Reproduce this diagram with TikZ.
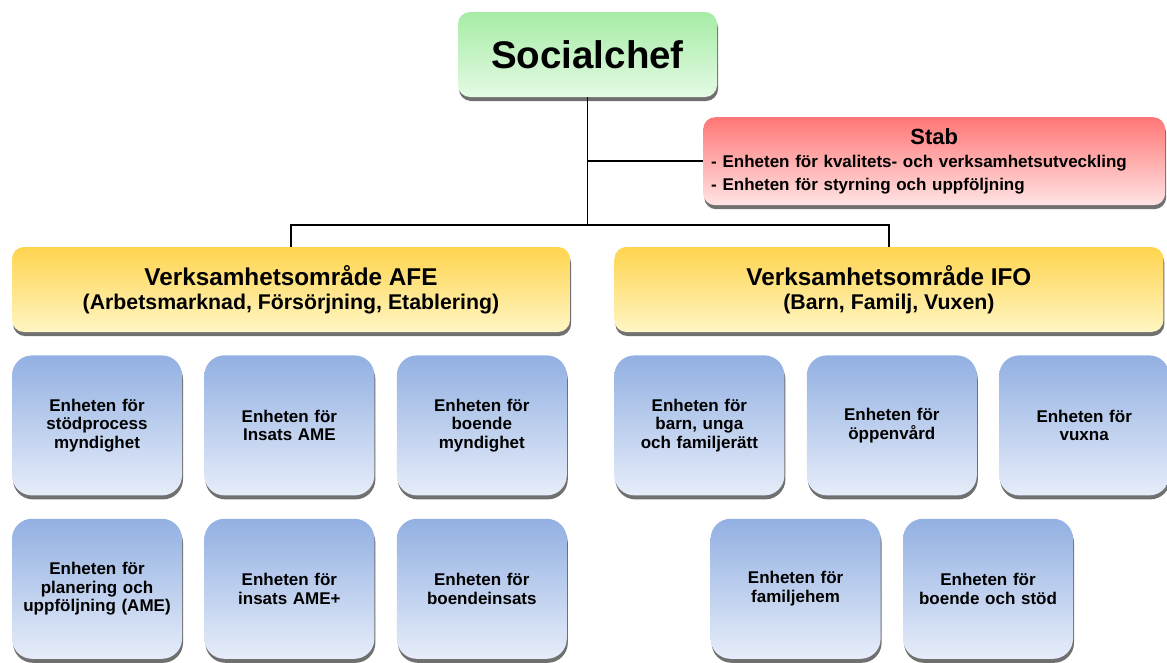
\documentclass[tikz,border=0pt]{standalone}
\usepackage{fontspec}
\setmainfont{Liberation Sans}
\usetikzlibrary{positioning,calc,shadows}

\definecolor{greentop}{RGB}{166,236,166}
\definecolor{greenbot}{RGB}{228,250,228}
\definecolor{redtop}{RGB}{255,118,118}
\definecolor{redbot}{RGB}{255,228,228}
\definecolor{yellowtop}{RGB}{255,212,78}
\definecolor{yellowbot}{RGB}{255,246,196}
\definecolor{bluetop}{RGB}{146,176,226}
\definecolor{bluebot}{RGB}{230,237,249}

\begin{document}
\begin{tikzpicture}[x=1pt, y=1pt,
    box/.style={rectangle, rounded corners=12pt, align=center, text=black,
      drop shadow={shadow xshift=1pt, shadow yshift=-4pt, fill=black!70, opacity=.8}},
    chefbox/.style={box, minimum width=259pt, minimum height=85pt, top color=greentop, bottom color=greenbot, font=\bfseries\fontsize{38.5}{44}\selectfont},
    stabbox/.style={box, minimum width=462pt, minimum height=88pt, text width=446pt, align=left, top color=redtop, bottom color=redbot, font=\bfseries\fontsize{17}{23}\selectfont},
    areabox/.style={box, minimum height=85pt, top color=yellowtop, bottom color=yellowbot, font=\bfseries\fontsize{21.3}{24}\selectfont},
    unitbox/.style={box, rounded corners=20pt, minimum width=170pt, minimum height=140pt, text width=160pt, top color=bluetop, bottom color=bluebot, font=\bfseries\fontsize{17}{18.5}\selectfont},
    conn/.style={line width=1.6pt}]
    \useasboundingbox (0,0) rectangle (1167,-662);

    % top level
    \node (chef) [chefbox] at (587.5,-54.5) {Socialchef};
    \node (stab) [stabbox, anchor=north west] at (703,-117) {\makebox[446pt]{\fontsize{22}{26}\selectfont Stab}\\- Enheten för kvalitets- och verksamhetsutveckling\\- Enheten för styrning och uppföljning};

    % areas
    \node (afe) [areabox, minimum width=558pt] at (291,-289.5) {{\fontsize{24.3}{26}\selectfont Verksamhetsområde AFE}\\(Arbetsmarknad, Försörjning, Etablering)};
    \node (ifo) [areabox, minimum width=549pt, right=44pt of afe] {{\fontsize{24.3}{26}\selectfont Verksamhetsområde IFO}\\(Barn, Familj, Vuxen)};

    % units AFE
    \node (stod) [unitbox, below right=23pt and 0pt of afe.south west] {Enheten för\\stödprocess\\myndighet};
    \node (insats) [unitbox, right=22pt of stod] {Enheten för\\Insats AME};
    \node (boende) [unitbox, right=22pt of insats] {Enheten för\\boende\\myndighet};
    \node (planering) [unitbox, below=23pt of stod] {Enheten för\\planering och\\uppföljning (AME)};
    \node (insatsplus) [unitbox, below=23pt of insats] {Enheten för\\insats AME+};
    \node (boendeinsats) [unitbox, below=23pt of boende] {Enheten för\\boendeinsats};

    % units IFO
    \node (barn) [unitbox, below right=23pt and 0pt of ifo.south west] {Enheten för\\barn, unga\\och familjerätt};
    \node (oppen) [unitbox, right=22pt of barn] {Enheten för\\öppenvård};
    \node (vuxna) [unitbox, right=22pt of oppen] {Enheten för\\vuxna};
    \coordinate (midA) at ($(barn.south)!0.5!(oppen.south)$);
    \coordinate (midB) at ($(oppen.south)!0.5!(vuxna.south)$);
    \node (familjehem) [unitbox, below=23pt of midA] {Enheten för\\familjehem};
    \node (boendestod) [unitbox, below=23pt of midB] {Enheten för\\boende och stöd};

    % lines
    \draw[conn] (chef.south) |- ([yshift=22pt]afe.north) -- (afe.north);
    \draw[conn] (chef.south) |- ([yshift=22pt]ifo.north) -- (ifo.north);
    \draw[conn] (chef.south |- stab.west) -- (stab.west);
\end{tikzpicture}
\end{document}
